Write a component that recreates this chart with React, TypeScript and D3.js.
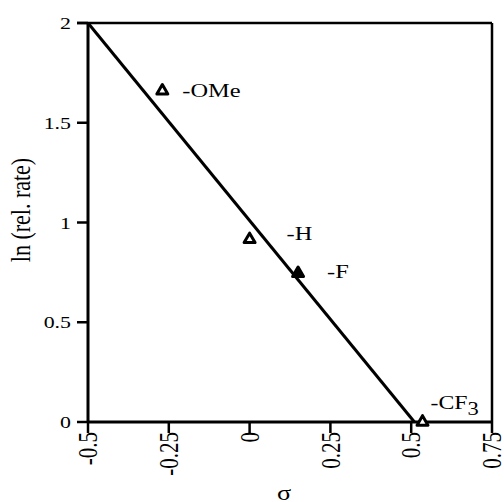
import React from "react";
import * as d3 from "d3";

const substituents = ["-OMe", "-H", "-F", "-CF3"];
const sigmaValues = [-0.27, 0.0, 0.15, 0.535];
const lnRelRate = [1.66, 0.915, 0.745, 0.0];
const fitSigma = [-0.5, 0.51];
const fitLn = [2.0, 0.0];
const xTicks = [-0.5, -0.25, 0, 0.25, 0.5, 0.75];
const xTickLabels = ["-0.5", "-0.25", "0", "0.25", "0.5", "0.75"];
const yTicks = [0, 0.5, 1, 1.5, 2];
const yTickLabels = ["0", "0.5", "1", "1.5", "2"];

const W = 504, H = 502;
const left = 88, right = 492, top = 23, bottom = 422;
const K = 1.25; // horizontal stretch of the scanned type

export default function App() {
  const x = d3.scaleLinear().domain([-0.5, 0.75]).range([left, right]);
  const y = d3.scaleLinear().domain([0, 2]).range([bottom, top]);
  const line = d3.line<number>().x((d, i) => x(fitSigma[i])).y((d, i) => y(fitLn[i]));
  const tri = d3.symbol().type(d3.symbolTriangle).size(52)();
  const labelOffsets = [
    { dx: 20, dy: 6 },
    { dx: 37, dy: 1 },
    { dx: 29, dy: 5 },
    { dx: 8, dy: -13 },
  ];
  const filled = [false, false, true, false];
  const font = "'Liberation Serif', 'Times New Roman', serif";
  return (
    <svg width={W} height={H} style={{ position: "absolute", left: 0, top: 0, background: "#fff" }} fontFamily={font}>
      {/* frame */}
      <line x1={left - 11} x2={right} y1={top} y2={top} stroke="#000" strokeWidth={2.5} />
      <line x1={right} x2={right} y1={top} y2={bottom} stroke="#000" strokeWidth={2.5} />
      <line x1={left} x2={left} y1={top} y2={bottom} stroke="#000" strokeWidth={3} />
      <line x1={left} x2={right} y1={bottom} y2={bottom} stroke="#000" strokeWidth={3} />
      {/* y ticks */}
      {yTicks.map((t, i) => (
        <g key={"y" + i}>
          <line x1={left - 11} x2={left} y1={y(t)} y2={y(t)} stroke="#000" strokeWidth={2.5} />
          <text transform={`translate(${left - 17},${y(t)}) scale(${K},1)`} dy="0.35em" textAnchor="end" fontSize={17.5}>{yTickLabels[i]}</text>
        </g>
      ))}
      {/* x ticks */}
      {xTicks.map((t, i) => (
        <g key={"x" + i}>
          <line x1={x(t)} x2={x(t)} y1={bottom} y2={bottom + 11} stroke="#000" strokeWidth={2.5} />
          <text transform={`translate(${x(t)},${bottom + 10}) scale(${K},1) rotate(-90)`} dy="0.35em" textAnchor="end" fontSize={21}>{xTickLabels[i]}</text>
        </g>
      ))}
      {/* fit line */}
      <path d={line(fitSigma) || ""} fill="none" stroke="#000" strokeWidth={3} />
      {/* points */}
      {sigmaValues.map((s, i) => (
        <path key={"p" + i} d={tri || ""} transform={`translate(${x(s)},${y(lnRelRate[i])})`} fill={filled[i] ? "#000" : "#fff"} stroke="#000" strokeWidth={3} strokeLinejoin="round" />
      ))}
      {/* labels */}
      {substituents.map((name, i) => {
        const px = x(sigmaValues[i]) + labelOffsets[i].dx;
        const py = y(lnRelRate[i]) + labelOffsets[i].dy;
        if (name === "-CF3") {
          return (
            <text key={"l" + i} transform={`translate(${px},${py}) scale(${K},1)`} fontSize={19}>
              -CF<tspan dy={6} fontSize={18}>3</tspan>
            </text>
          );
        }
        return (
          <text key={"l" + i} transform={`translate(${px},${py}) scale(${K},1)`} fontSize={19.5}>{name}</text>
        );
      })}
      {/* axis titles */}
      <text transform={`translate(284,500) scale(${K},1)`} textAnchor="middle" fontSize={21}>σ</text>
      <text transform={`translate(30,210) scale(${K},1) rotate(-90)`} textAnchor="middle" fontSize={22}>ln (rel. rate)</text>
    </svg>
  );
}
